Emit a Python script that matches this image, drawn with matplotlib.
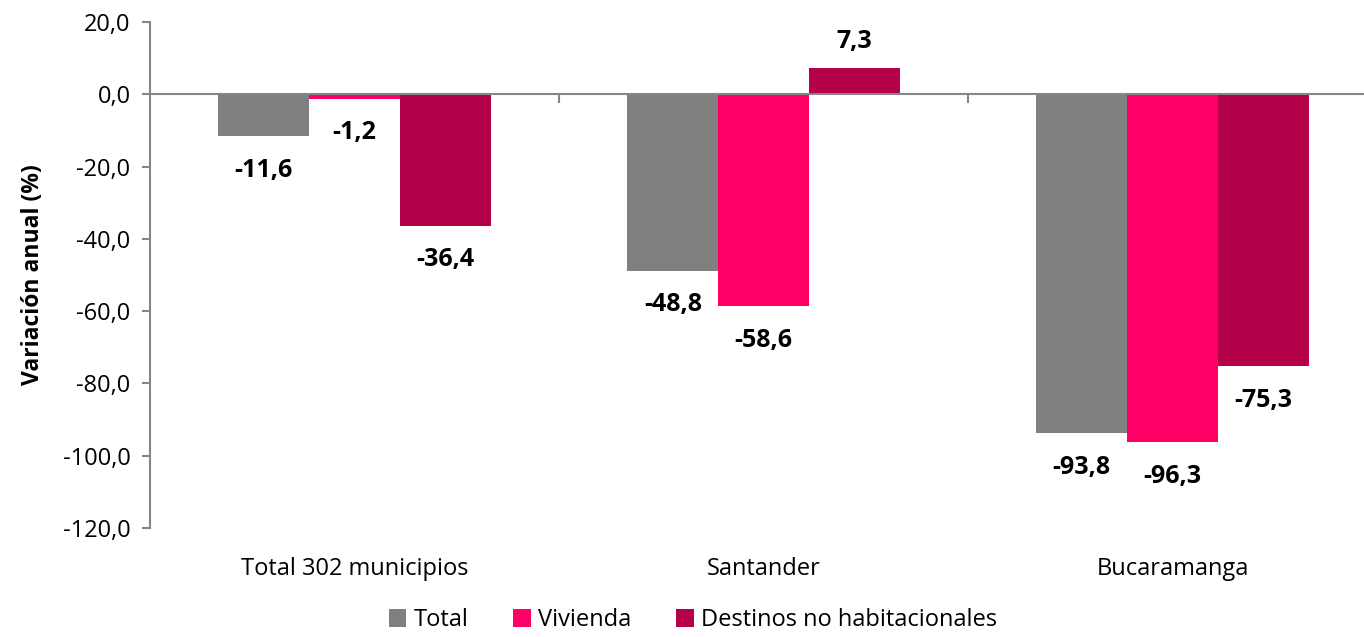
import matplotlib
matplotlib.use("Agg")
from matplotlib import pyplot as plt
import numpy as np

plt.rcParams['font.family'] = ['Open Sans', 'DejaVu Sans']

categorias = ['Total 302 municipios', 'Santander', 'Bucaramanga']
series = ['Total', 'Vivienda', 'Destinos no habitacionales']
total = [-11.6, -48.8, -93.8]
vivienda = [-1.2, -58.6, -96.3]
no_habitacionales = [-36.4, 7.3, -75.3]
colores = ['#808080', '#FF0066', '#B5004A']

y_ticks = np.arange(-120, 21, 20)

fig = plt.figure(figsize=(13.64, 6.37), dpi=100)
ax = fig.add_axes([0.110, 0.1711, 0.890, 0.7944])

x = np.arange(len(categorias))
ancho = 0.222
for i, (nombre, valores) in enumerate(zip(series, [total, vivienda, no_habitacionales])):
    pos = x + (i - 1) * ancho
    ax.bar(pos, valores, width=ancho, color=colores[i], label=nombre, zorder=2)
    for xp, v in zip(pos, valores):
        off = 19 if v >= 0 else -24.5
        ax.annotate(f"{v:.1f}".replace('.', ','), (xp, v), xytext=(0, off),
                    textcoords='offset points', ha='center', va='center',
                    fontsize=18, fontweight='bold', color='black')

# linea del cero y separadores de categorias
ax.axhline(0, color='#868686', lw=1.5, zorder=3)
ax.vlines([0.5, 1.5], 0, -2.5, color='#868686', lw=1.5, zorder=3)

ax.set_xlim(-0.5, 2.468)
ax.set_ylim(-120, 20)
ax.set_yticks(y_ticks)
ax.set_yticklabels([f"{t:.1f}".replace('.', ',') for t in y_ticks])
ax.set_xticks(x)
ax.set_xticklabels(categorias)

for s in ['top', 'right', 'bottom']:
    ax.spines[s].set_visible(False)
ax.spines['left'].set_color('#868686')
ax.spines['left'].set_linewidth(1.5)
ax.tick_params(axis='y', direction='out', length=6, width=1.5, color='#868686',
               labelsize=17, pad=8)
ax.tick_params(axis='x', length=0, labelsize=17, pad=21)

ax.set_ylabel("Variación anual (%)", fontsize=16.5, fontweight='bold', labelpad=13)

fig.legend(loc='lower center', bbox_to_anchor=(0.508, -0.026), ncol=3, frameon=False,
           fontsize=17, handlelength=0.75, handleheight=0.75, handletextpad=0.3,
           columnspacing=1.9)

fig.savefig("out.png", dpi=100)
